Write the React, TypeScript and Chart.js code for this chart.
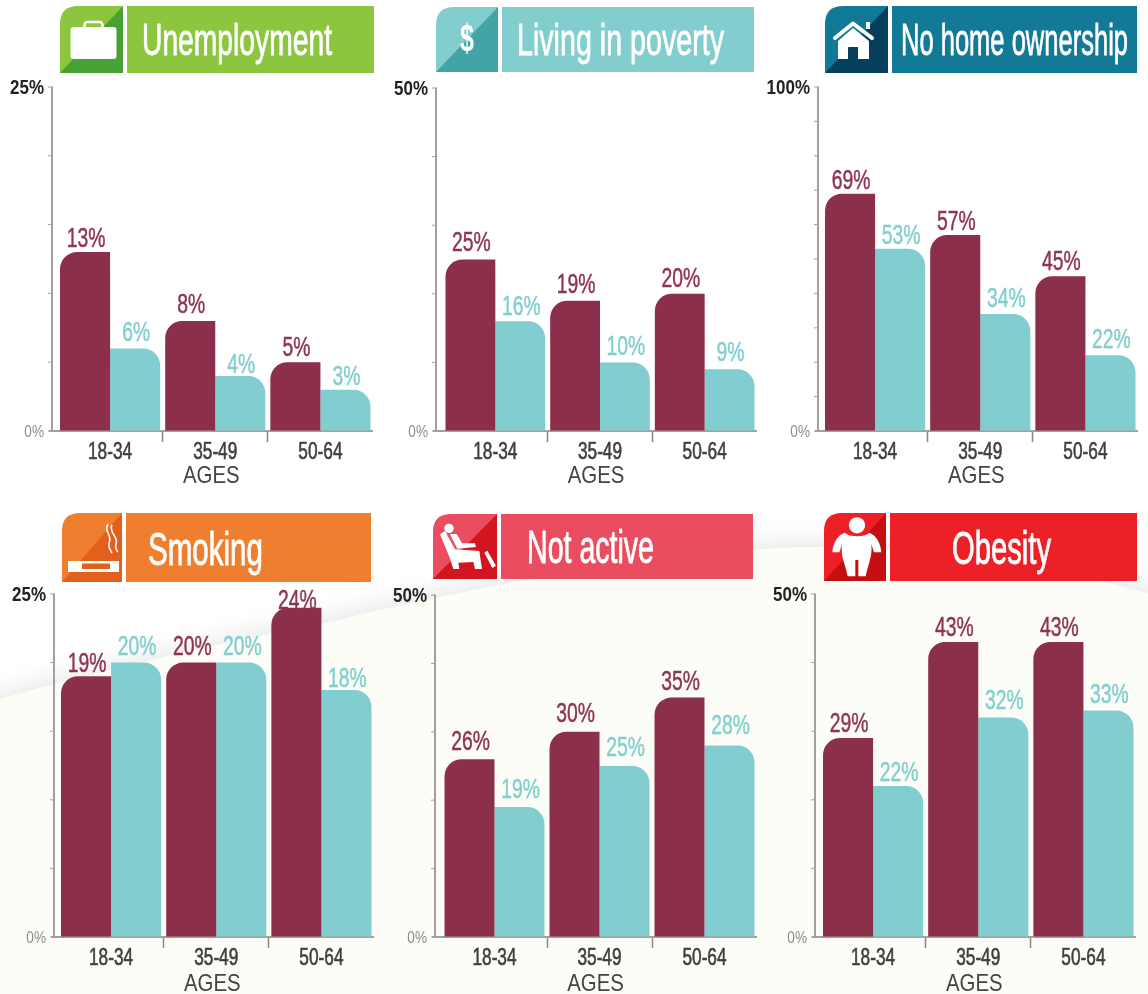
import React, { useEffect, useRef } from "react";
import { Chart, registerables } from "chart.js";

Chart.register(...registerables);

const ageGroups = ["18-34", "35-49", "50-64"];

const unemploymentMaroon = [13, 8, 5];
const unemploymentTeal = [6, 4, 3];
const povertyMaroon = [25, 19, 20];
const povertyTeal = [16, 10, 9];
const homeMaroon = [69, 57, 45];
const homeTeal = [53, 34, 22];
const smokingMaroon = [19, 20, 24];
const smokingTeal = [20, 20, 18];
const activeMaroon = [26, 30, 35];
const activeTeal = [19, 25, 28];
const obesityMaroon = [29, 43, 43];
const obesityTeal = [22, 32, 33];

const FONT = '"Liberation Sans", Arial, sans-serif';
const MAROON = "#8b2f4b";
const TEAL = "#81cdcf";
const AXIS = "#a79e9b";

// Horizontal squeeze per font size: no condensed face is installed.
const squeeze: Record<string, number> = { "17": 0.8, "20": 0.85, "23": 0.75, "24": 0.85, "28": 0.69 };
const shift: Record<string, number> = { "24": -4 };

type Panel = {
  maroon: number[];
  teal: number[];
  max: number;
  step: number;
  axisX: number;
  left: number;
  right: number;
  top: number;
  base: number;
  xBox: number;
  gaps: number[][];
};

const panels: Panel[] = [
  { maroon: unemploymentMaroon, teal: unemploymentTeal, max: 25, step: 5, axisX: 52, left: 57.5, right: 372.5, top: 86.5, base: 430, xBox: 60, gaps: [[5, 8, 6], [7, 3, 5]] },
  { maroon: povertyMaroon, teal: povertyTeal, max: 50, step: 10, axisX: 436, left: 443, right: 756.5, top: 86.5, base: 430, xBox: 60, gaps: [[9, 8, 7], [6, 7, 8]] },
  { maroon: homeMaroon, teal: homeTeal, max: 100, step: 10, axisX: 818, left: 822.5, right: 1137.5, top: 86.5, base: 430, xBox: 60, gaps: [[5, 5, 6], [5, 7, 7]] },
  { maroon: smokingMaroon, teal: smokingTeal, max: 25, step: 5, axisX: 54, left: 58.5, right: 373.5, top: 594, base: 937, xBox: 62, gaps: [[4, 8, -1], [8, 8, 3]] },
  { maroon: activeMaroon, teal: activeTeal, max: 50, step: 10, axisX: 435, left: 442, right: 757, top: 594, base: 937, xBox: 62, gaps: [[9, 10, 8], [9, 10, 11]] },
  { maroon: obesityMaroon, teal: obesityTeal, max: 50, step: 10, axisX: 815, left: 820.5, right: 1135.5, top: 594, base: 937, xBox: 62, gaps: [[6, 6, 6], [5, 8, 8]] },
];

const TOP_PAD = 26;
const RIGHT_PAD = 6;
const LEFT_ROOM = 58;

function PanelChart({ panel }: { panel: Panel }) {
  const ref = useRef<HTMLCanvasElement | null>(null);
  const x0 = panel.axisX - LEFT_ROOM;
  const y0 = panel.top - TOP_PAD;
  const width = Math.ceil(panel.right + RIGHT_PAD - x0);
  const height = Math.ceil(panel.base - panel.top + TOP_PAD + panel.xBox);

  useEffect(() => {
    if (!ref.current) return;
    const condensePlugin = {
      id: "condense",
      beforeInit(chart: any) {
        const ctx = chart.ctx;
        const wrap = (name: "fillText" | "strokeText") => {
          const orig = ctx[name];
          ctx[name] = function (t: string, x: number, y: number, m?: number) {
            const size = (/(\d+(?:\.\d+)?)px/.exec(this.font) || [])[1] || "";
            const sx = squeeze[size] || 1;
            this.save();
            this.translate(x + (shift[size] || 0), y);
            this.scale(sx, 1);
            orig.call(this, t, 0, 0, m);
            this.restore();
          };
        };
        wrap("fillText");
        wrap("strokeText");
      },
    };
    const axisPlugin = {
      id: "axisLines",
      beforeDatasetsDraw(chart: any) {
        const { ctx, scales } = chart;
        const y = scales.y;
        const axis = LEFT_ROOM;
        const bottom = y.getPixelForValue(0);
        const top = y.getPixelForValue(panel.max);
        ctx.save();
        ctx.strokeStyle = AXIS;
        ctx.lineWidth = 2;
        ctx.beginPath();
        ctx.moveTo(axis, top - 0.5);
        ctx.lineTo(axis, bottom);
        ctx.moveTo(axis - 3, bottom);
        ctx.lineTo(chart.chartArea.right, bottom);
        ctx.stroke();
        ctx.lineWidth = 1;
        y.ticks.forEach((t: any) => {
          const py = y.getPixelForValue(t.value);
          ctx.beginPath();
          ctx.moveTo(axis - 4, py);
          ctx.lineTo(axis, py);
          ctx.stroke();
        });
        ctx.restore();
      },
    };
    const labelPlugin = {
      id: "valueLabels",
      afterDatasetsDraw(chart: any) {
        const { ctx } = chart;
        chart.data.datasets.forEach((ds: any, di: number) => {
          chart.getDatasetMeta(di).data.forEach((bar: any, i: number) => {
            const color = di === 0 ? "#8f3451" : "#82cfcf";
            ctx.save();
            ctx.font = `28px ${FONT}`;
            ctx.textAlign = "center";
            ctx.textBaseline = "alphabetic";
            ctx.fillStyle = color;
            ctx.strokeStyle = color;
            ctx.lineWidth = 0.5;
            const text = `${ds.data[i]}%`;
            const ly = bar.y - panel.gaps[di][i];
            ctx.fillText(text, bar.x + 1, ly);
            ctx.strokeText(text, bar.x + 1, ly);
            ctx.restore();
          });
        });
      },
    };
    const chart = new Chart(ref.current, {
      type: "bar",
      data: {
        labels: ageGroups,
        datasets: [
          {
            label: "Group A",
            data: panel.maroon,
            backgroundColor: MAROON,
            borderRadius: { topLeft: 17, topRight: 0, bottomLeft: 0, bottomRight: 0 },
            borderSkipped: "bottom",
            categoryPercentage: 0.952,
            barPercentage: 1,
          },
          {
            label: "Group B",
            data: panel.teal,
            backgroundColor: TEAL,
            borderRadius: { topLeft: 0, topRight: 17, bottomLeft: 0, bottomRight: 0 },
            borderSkipped: "bottom",
            categoryPercentage: 0.952,
            barPercentage: 1,
          },
        ],
      },
      plugins: [condensePlugin, axisPlugin, labelPlugin],
      options: {
        animation: false,
        responsive: false,
        maintainAspectRatio: false,
        layout: { padding: { top: TOP_PAD, right: RIGHT_PAD, left: 0, bottom: 0 } },
        plugins: { legend: { display: false }, title: { display: false }, tooltip: { enabled: false } },
        scales: {
          x: {
            type: "category",
            afterFit: (s: any) => {
              s.height = panel.xBox;
            },
            border: { display: false },
            grid: {
              offset: true,
              drawOnChartArea: false,
              drawTicks: true,
              tickLength: 11,
              tickWidth: 1.5,
              tickColor: (c: any) => (c.index === 1 || c.index === 2 ? "#8f8683" : "rgba(0,0,0,0)"),
            },
            ticks: {
              autoSkip: false,
              maxRotation: 0,
              padding: -3,
              color: "#3f3f3f",
              textStrokeColor: "#3f3f3f",
              textStrokeWidth: 0.6,
              font: { family: FONT, size: 23 },
            },
            title: {
              display: true,
              text: "AGES",
              color: "#444444",
              font: { family: FONT, size: 24 },
              padding: { top: 0, bottom: 0 },
            },
          },
          y: {
            type: "linear",
            min: 0,
            max: panel.max,
            afterFit: (s: any) => {
              s.width = panel.left - x0;
            },
            border: { display: false },
            grid: { drawOnChartArea: false, drawTicks: false },
            ticks: {
              stepSize: panel.step,
              padding: panel.left - panel.axisX + 8,
              labelOffset: 1,
              autoSkip: false,
              callback: (v: any) => (v === panel.max || v === 0 ? `${v}%` : ""),
              color: (c: any) => (c.tick.value === 0 ? "#8d8d8d" : "#222222"),
              font: (c: any) =>
                c.tick && c.tick.value === 0
                  ? { family: FONT, size: 17 }
                  : { family: FONT, size: 20, weight: "bold" },
            },
          },
        },
      },
    } as any);
    return () => chart.destroy();
  }, []);

  return (
    <canvas
      ref={ref}
      width={width}
      height={height}
      style={{ position: "absolute", left: x0, top: y0, width, height, display: "block" }}
    />
  );
}

type Head = {
  x0: number;
  x1: number;
  bx: number;
  bx1: number;
  y0: number;
  y1: number;
  color: string;
  dark: string;
  title: string;
  tx: number;
  tw: number;
  base: number;
  size: number;
};

const heads: Head[] = [
  { x0: 60, x1: 123, bx: 127, bx1: 374, y0: 6, y1: 73, color: "#8bc63e", dark: "#47a233", title: "Unemployment", tx: 142, tw: 190, base: 55, size: 44 },
  { x0: 436, x1: 498, bx: 502, bx1: 754, y0: 7, y1: 72, color: "#82cdce", dark: "#42a5a5", title: "Living in poverty", tx: 517, tw: 207, base: 55, size: 44 },
  { x0: 825, x1: 888, bx: 892, bx1: 1137, y0: 6, y1: 73, color: "#127a96", dark: "#053f5c", title: "No home ownership", tx: 901, tw: 227, base: 55, size: 44 },
  { x0: 62, x1: 122, bx: 126, bx1: 371, y0: 513, y1: 582, color: "#ef7e2e", dark: "#e25f1c", title: "Smoking", tx: 148, tw: 115, base: 565, size: 46 },
  { x0: 433, x1: 497, bx: 501, bx1: 753, y0: 514, y1: 579, color: "#ea4d5f", dark: "#d2151f", title: "Not active", tx: 527, tw: 127, base: 563, size: 46 },
  { x0: 824, x1: 886, bx: 890, bx1: 1137, y0: 513, y1: 581, color: "#ee2027", dark: "#c60e12", title: "Obesity", tx: 952, tw: 99, base: 564, size: 46 },
];

function Icon({ i }: { i: number }) {
  if (i === 0)
    return (
      <g fill="#fff">
        <rect x={70.5} y={27} width={46} height={32} rx={3} />
        <rect x={84.5} y={22} width={18} height={8} rx={3} fill="none" stroke="#fff" strokeWidth={2.5} />
      </g>
    );
  if (i === 1)
    return (
      <text x={460} y={51} fontFamily={FONT} fontWeight="bold" fontSize={39} fill="#fff" textLength={14} lengthAdjust="spacingAndGlyphs">
        $
      </text>
    );
  if (i === 2)
    return (
      <g fill="#fff">
        <polygon points="838,41 853,28 869,41 869,59 858,59 858,47 848,47 848,59 838,59" />
        <path d="M835 38 L853 23.5 L872 38" fill="none" stroke="#fff" strokeWidth={4} strokeLinecap="round" strokeLinejoin="round" />
        <rect x={866} y={22} width={4} height={7} />
      </g>
    );
  if (i === 3)
    return (
      <g>
        <rect x={68} y={561} width={51} height={11} fill="#fff" />
        <rect x={82} y={563.5} width={28} height={5.5} fill="#e25f1c" />
        <g fill="none" stroke="#fff" strokeWidth={1.6}>
          <path d="M108 524 C103 531 113 535 109 543 C108 547 110 550 112 553" />
          <path d="M112 525 C108 532 119 537 116 544 C115 548 116 550 118 552" />
        </g>
      </g>
    );
  if (i === 4)
    return (
      <g transform="translate(390,500) scale(0.3333)" fill="#fff">
        <circle cx={177} cy={85} r={14} />
        <polygon points="150,103 165,93 195,148 268,153 276,207 255,207 250,186 205,188 208,207 190,207 178,170" />
        <polygon points="180,102 200,102 216,130 255,130 258,141 202,146" />
        <polygon points="283,158 292,152 318,197 307,204" />
      </g>
    );
  return (
    <g transform="translate(748,500) scale(0.3333)" fill="#fff">
      <path d="M290 98 C268 105 255 130 253 157 L274 157 L282 132 C277 170 292 190 299 229 L322 229 L322 180 L331 180 L331 229 L353 229 C361 190 374 170 370 132 L378 157 L400 157 C398 130 385 105 364 98 C350 112 305 112 290 98 Z" />
      <circle cx={327} cy={76} r={27} stroke="#ee2027" strokeWidth={5} />
    </g>
  );
}

const CURVE = "M-60 716 C 60 680, 230 640, 330 622 C 450 592, 620 560, 750 550 C 860 541, 1000 548, 1208 610";

export default function App() {
  return (
    <div style={{ position: "absolute", left: 0, top: 0, width: 1148, height: 994, overflow: "hidden", background: "#ffffff" }}>
      <svg width={1148} height={994} style={{ position: "absolute", left: 0, top: 0 }}>
        <defs>
          <filter id="soft" x="-10%" y="-50%" width="120%" height="200%">
            <feGaussianBlur stdDeviation="12" />
          </filter>
        </defs>
        <path d={`${CURVE} L1208 720 L-60 800 Z`} fill="#e6e6e6" filter="url(#soft)" transform="translate(0,-4)" />
        <path d={`${CURVE} L1208 1010 L-60 1010 Z`} fill="#fdfdf8" />
      </svg>
      {panels.map((p, i) => (
        <PanelChart key={i} panel={p} />
      ))}
      <svg width={1148} height={994} style={{ position: "absolute", left: 0, top: 0, pointerEvents: "none" }}>
        {heads.map((h, i) => (
          <g key={i}>
            <path d={`M${h.x0} ${h.y1} L${h.x0} ${h.y0 + 18} Q${h.x0} ${h.y0} ${h.x0 + 18} ${h.y0} L${h.x1} ${h.y0} L${h.x1} ${h.y1} Z`} fill={h.color} />
            <polygon points={`${h.x1},${h.y0} ${h.x1},${h.y1} ${h.x0},${h.y1}`} fill={h.dark} />
            <rect x={h.bx} y={h.y0} width={h.bx1 - h.bx} height={h.y1 - h.y0} fill={h.color} />
            <Icon i={i} />
            <text
              x={h.tx}
              y={h.base}
              fontFamily={FONT}
              fontSize={h.size}
              fill="#ffffff"
              stroke="#ffffff"
              strokeWidth={0.8}
              textLength={h.tw}
              lengthAdjust="spacingAndGlyphs"
            >
              {h.title}
            </text>
          </g>
        ))}
      </svg>
    </div>
  );
}
